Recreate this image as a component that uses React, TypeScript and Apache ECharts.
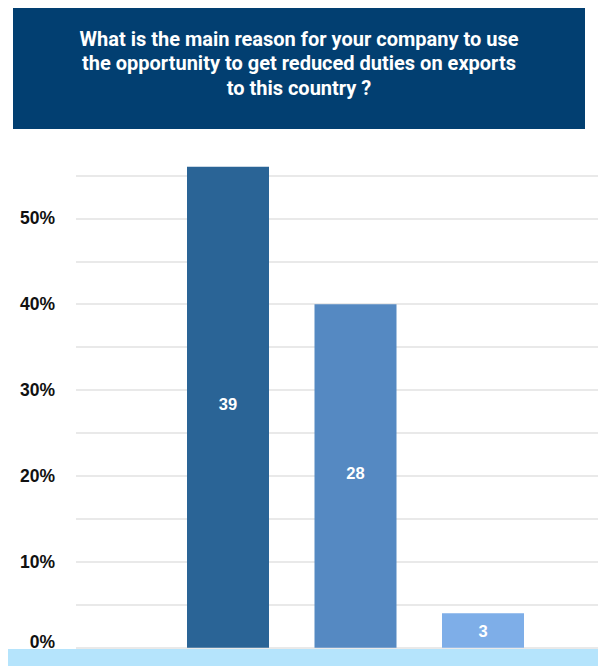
import React, { useEffect, useRef } from "react";
import * as echarts from "echarts";

const titleLines = [
  "What is the main reason for your company to use",
  "the opportunity to get reduced duties on exports",
  "to this country ?",
];
const categories = ["Option 1", "Option 2", "Option 3"];
const percentValues = [56, 40, 4];
const countLabels = [39, 28, 3];
const barColors = ["#2a6496", "#5589c2", "#7eaee8"];
const yTicks = [0, 5, 10, 15, 20, 25, 30, 35, 40, 45, 50, 55];

export default function App() {
  const ref = useRef<HTMLDivElement>(null);
  useEffect(() => {
    if (!ref.current) return;
    const chart = echarts.init(ref.current, undefined, { renderer: "svg" });
    const top = 175.4;
    const bottom = 18.3;
    chart.setOption({
      animation: false,
      backgroundColor: "#ffffff",
      grid: [
        { left: 76, right: 0, top, bottom },
        { left: 164.25, right: 51.25, top, bottom },
      ],
      xAxis: [
        { gridIndex: 0, type: "value", show: false, min: 0, max: 1 },
        { gridIndex: 1, type: "category", data: categories, show: false },
      ],
      yAxis: [
        {
          gridIndex: 0,
          type: "value",
          min: yTicks[0],
          max: yTicks[yTicks.length - 1],
          interval: 5,
          axisLine: { show: false },
          axisTick: { show: false },
          splitLine: { lineStyle: { color: "#e2e2e2", width: 1.6 } },
          axisLabel: {
            margin: 21,
            fontFamily: "Liberation Sans",
            fontWeight: "bold",
            fontSize: 17.5,
            color: "#111111",
            formatter: (v: number) =>
              v === 0 ? "{z|0%}" : v % 10 === 0 ? v + "%" : "",
            rich: {
              z: {
                fontFamily: "Liberation Sans",
                fontWeight: "bold",
                fontSize: 17.5,
                color: "#111111",
                padding: [0, 0, 12, 0],
              },
            },
          },
        },
        {
          gridIndex: 1,
          type: "value",
          min: 0,
          max: 55,
          show: false,
          splitLine: { show: false },
        },
      ],
      series: [
        {
          type: "bar",
          xAxisIndex: 1,
          yAxisIndex: 1,
          barWidth: 82,
          clip: false,
          data: percentValues.map((v, i) => ({
            value: v,
            itemStyle: { color: barColors[i] },
            label: { offset: [0, v > 10 ? -3 : 0] },
          })),
          label: {
            show: true,
            position: "inside",
            color: "#ffffff",
            fontFamily: "Liberation Sans",
            fontWeight: "bold",
            fontSize: 16.5,
            formatter: (p: any) => String(countLabels[p.dataIndex]),
          },
        },
      ],
      graphic: [
        {
          type: "rect",
          shape: { x: 13, y: 8, width: 572, height: 121 },
          style: { fill: "#023f71" },
        },
        {
          type: "text",
          x: 299,
          y: 26.5,
          style: {
            text: titleLines.join("\n"),
            fill: "#ffffff",
            font: "bold 20px Roboto",
            lineHeight: 24.5,
            align: "center",
            verticalAlign: "top",
          },
        },
        {
          type: "rect",
          shape: { x: 8, y: 649, width: 590, height: 17 },
          style: { fill: "#b5e4fc" },
          z: 10,
        },
      ],
    });
    return () => chart.dispose();
  }, []);
  return (
    <div
      ref={ref}
      style={{ position: "fixed", left: 0, top: 0, width: 598, height: 666 }}
    />
  );
}
